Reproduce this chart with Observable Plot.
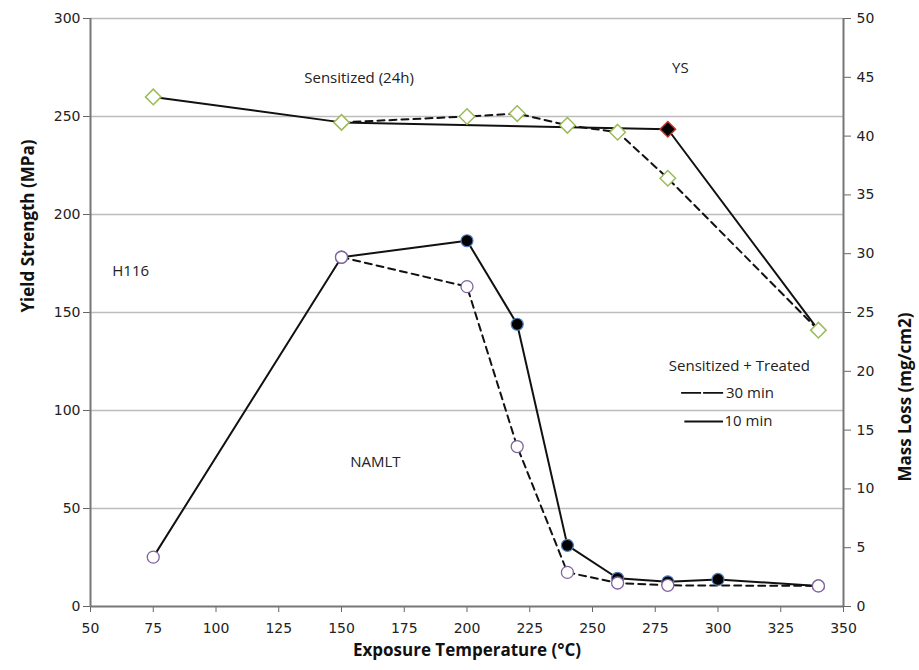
<!DOCTYPE html>
<html>
<head>
<meta charset="utf-8">
<script src="https://cdn.jsdelivr.net/npm/d3@7"></script>
<script src="https://cdn.jsdelivr.net/npm/@observablehq/plot@0.6"></script>
<style>
  html, body { margin: 0; padding: 0; background: #fff; }
</style>
</head>
<body>
<div id="chart"></div>
<script>
// ---- Data ----
// Yield strength (MPa, left axis)
const ysTemps10 = [75, 150, 280, 340];
const ysValues10 = [260, 247, 243.5, 141];
const ysTemps30 = [150, 200, 220, 240, 260, 280, 340];
const ysValues30 = [247, 250, 251.5, 245.5, 242, 218.5, 141];

// Mass loss (mg/cm2, right axis)
const mlTemps10 = [75, 150, 200, 220, 240, 260, 280, 300, 340];
const mlValues10 = [4.2, 29.7, 31.1, 24.0, 5.2, 2.4, 2.1, 2.3, 1.75];
const mlTemps30 = [150, 200, 220, 240, 260, 280, 340];
const mlValues30 = [29.7, 27.2, 13.6, 2.9, 2.0, 1.8, 1.75];
// which 10-min mass loss points are drawn as filled markers
const mlFilled10 = [false, false, true, true, true, true, true, true, false];

const xTicks = [50, 75, 100, 125, 150, 175, 200, 225, 250, 275, 300, 325, 350];
const yTicks = [0, 50, 100, 150, 200, 250, 300];
const y2Ticks = [0, 5, 10, 15, 20, 25, 30, 35, 40, 45, 50];

const annotations = [
  {text: "Sensitized (24h)", x: 157, y: 269.5},
  {text: "YS", x: 285, y: 274.5},
  {text: "H116", x: 66, y: 171},
  {text: "NAMLT", x: 163.5, y: 73.5},
  {text: "Sensitized + Treated", x: 308.5, y: 122.4}
];
const legendItems = [
  {label: "30 min", y: 109, x1: 285.5, x2: 302.8, dashed: true},
  {label: "10 min", y: 94.4, x1: 286.8, x2: 302.2, dashed: false}
];

// ---- Build tables ----
const mlScale = 300 / 50; // right axis mapped onto left scale
const ys10 = ysTemps10.map((t, i) => ({t, v: ysValues10[i]}));
const ys30 = ysTemps30.map((t, i) => ({t, v: ysValues30[i]}));
const ml10 = mlTemps10.map((t, i) => ({t, v: mlValues10[i] * mlScale, filled: mlFilled10[i]}));
const ml30 = mlTemps30.map((t, i) => ({t, v: mlValues30[i] * mlScale}));

const green = "#9bbb59", purple = "#8064a2", blue = "#4f81bd";

const chart = Plot.plot({
  width: 919,
  height: 670,
  marginLeft: 90,
  marginRight: 76,
  marginTop: 18,
  marginBottom: 64,
  x: {domain: [50, 350]},
  y: {domain: [0, 300]},
  style: {fontFamily: "DejaVu Sans", fontSize: "14px", color: "#222", background: "#fff"},
  marks: [
    Plot.ruleY(yTicks.filter(d => d > 0), {stroke: "#bdbdbd", strokeWidth: 1.5}),
    Plot.axisX({ticks: xTicks, tickSize: 6, tickPadding: 11, label: null, stroke: "#666", fill: "#222", fontSize: 14}),
    Plot.axisY({ticks: yTicks, tickSize: 7, tickPadding: 3, label: null, stroke: "#666", fill: "#222", fontSize: 14}),
    Plot.axisY({anchor: "right", ticks: y2Ticks.map(d => d * mlScale), tickFormat: d => d / mlScale, tickSize: 7, tickPadding: 6, label: null, stroke: "#666", fill: "#222", fontSize: 14}),
    Plot.ruleX([50, 350], {stroke: "#777", strokeWidth: 2}),
    Plot.ruleY([0], {stroke: "#777", strokeWidth: 2}),
    // lines
    Plot.line(ys10, {x: "t", y: "v", stroke: "#111", strokeWidth: 2}),
    Plot.line(ys30, {x: "t", y: "v", stroke: "#111", strokeWidth: 2, strokeDasharray: "7,5"}),
    Plot.line(ml10, {x: "t", y: "v", stroke: "#111", strokeWidth: 2}),
    Plot.line(ml30, {x: "t", y: "v", stroke: "#111", strokeWidth: 2, strokeDasharray: "7,5"}),
    // YS markers
    Plot.dot(ys10.filter(d => d.t === 75), {x: "t", y: "v", symbol: "diamond2", r: 7, fill: "#fff", stroke: green, strokeWidth: 1.5}),
    Plot.dot(ys10.filter(d => d.t === 280), {x: "t", y: "v", symbol: "diamond2", r: 7, fill: "#000", stroke: "#c0392b", strokeWidth: 1.5}),
    Plot.dot(ys30, {x: "t", y: "v", symbol: "diamond2", r: 7, fill: "#fff", stroke: green, strokeWidth: 1.5}),
    // Mass loss markers
    Plot.dot(ml10.filter(d => d.filled), {x: "t", y: "v", r: 6, fill: "#000", stroke: blue, strokeWidth: 1.2}),
    Plot.dot(ml10.filter(d => !d.filled), {x: "t", y: "v", r: 6, fill: "#fff", stroke: purple, strokeWidth: 1.3}),
    Plot.dot(ml30, {x: "t", y: "v", r: 6, fill: "#fff", stroke: purple, strokeWidth: 1.3}),
    // annotations
    Plot.text(annotations, {x: "x", y: "y", text: "text", fontFamily: "Open Sans", fontSize: 15, fill: "#222"}),
    // legend
    Plot.ruleY(legendItems.filter(d => d.dashed), {y: "y", x1: "x1", x2: "x2", stroke: "#111", strokeWidth: 1.8, strokeDasharray: "20,2"}),
    Plot.ruleY(legendItems.filter(d => !d.dashed), {y: "y", x1: "x1", x2: "x2", stroke: "#111", strokeWidth: 1.8}),
    Plot.text(legendItems, {x: "x2", y: "y", text: "label", textAnchor: "start", dx: 1, fontFamily: "Open Sans", fontSize: 15, fill: "#222"}),
    // axis titles
    Plot.text(["Yield Strength (MPa)"], {frameAnchor: "left", dx: -62, rotate: -90, fontFamily: "Open Sans", fontWeight: "bold", fontSize: 17, fill: "#111"}),
    Plot.text(["Mass Loss (mg/cm2)"], {frameAnchor: "right", dx: 62, rotate: -90, fontFamily: "Open Sans", fontWeight: "bold", fontSize: 17, fill: "#111"}),
    Plot.text(["Exposure Temperature (°C)"], {frameAnchor: "bottom", dy: 49, fontFamily: "Open Sans", fontWeight: "bold", fontSize: 17, fill: "#111"})
  ]
});
document.getElementById("chart").appendChild(chart);
</script>
</body>
</html>
